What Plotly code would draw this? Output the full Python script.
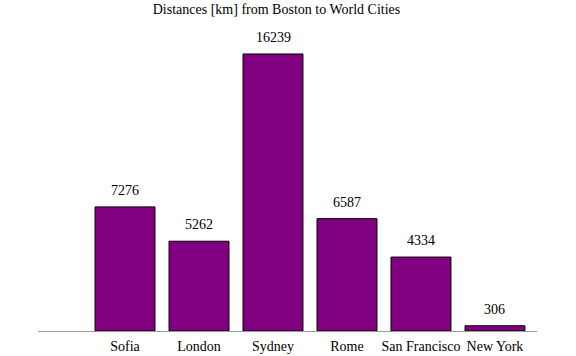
import plotly.graph_objects as go

cities = ["Sofia", "London", "Sydney", "Rome", "San Francisco", "New York"]
distances = [7276, 5262, 16239, 6587, 4334, 306]

fig = go.Figure()
fig.add_trace(go.Bar(
    x=cities, y=distances,
    marker=dict(color="#800080", line=dict(color="black", width=1)),
    width=0.81,
    hoverinfo="skip",
))
for c, v in zip(cities, distances):
    fig.add_annotation(x=c, y=v, text=str(v), showarrow=False,
                       yanchor="bottom", yshift=7,
                       font=dict(family="Liberation Serif", size=14, color="black"))

fig.update_layout(
    width=576, height=356,
    margin=dict(l=38, r=39, t=40, b=25, autoexpand=False),
    paper_bgcolor="white", plot_bgcolor="white",
    font=dict(family="Liberation Serif", size=14, color="black"),
    title=dict(text="Distances [km] from Boston to World Cities",
               x=0.48, xanchor="center", y=1 - 9/356, yanchor="middle",
               font=dict(family="Liberation Serif", size=14, color="black")),
    showlegend=False,
)
fig.update_xaxes(range=[-1.176, 5.568], showline=True, linecolor="#999999",
                 linewidth=1, showgrid=False, ticks="", zeroline=False,
                 automargin=False, ticklabelstandoff=2)
fig.update_yaxes(range=[0, 17058], visible=False, showgrid=False, zeroline=False,
                 automargin=False)

fig.write_html("out.html")
